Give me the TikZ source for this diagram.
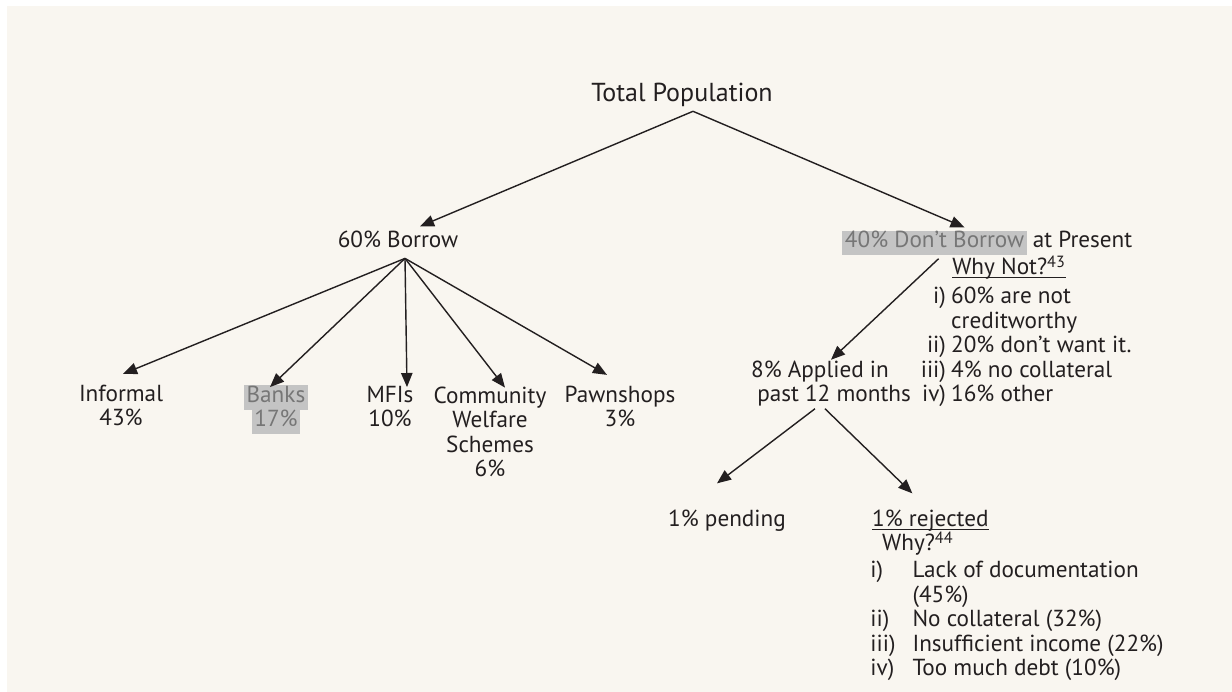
\documentclass[tikz,border=0pt]{standalone}
\usepackage{fontspec}
\setmainfont{PT Sans}
\usetikzlibrary{arrows.meta,calc,positioning}

\definecolor{bgcream}{RGB}{249,246,240}
\definecolor{hlgray}{RGB}{196,196,196}
\definecolor{hltext}{RGB}{118,118,118}
\definecolor{inkcol}{RGB}{35,31,32}

% grey marker behind a word
\newcommand{\hlbox}[1]{{\setlength{\fboxsep}{0pt}\colorbox{hlgray}{\strut\hspace{1.5pt}\textcolor{hltext}{#1}\hspace{1.5pt}}}}
% underline close to the baseline
\newcommand{\ulbox}[1]{\underline{\raisebox{0pt}[\height][0pt]{#1}}}
% list labels
\newcommand{\rlbl}[1]{\makebox[14pt][r]{#1}\hspace{3pt}}
\newcommand{\llbl}[1]{\makebox[24pt][l]{#1}}

\begin{document}
\begin{tikzpicture}[
    x=0.02cm, y=-0.02cm,
    txt/.style={
        font=\fontsize{13.2}{14}\selectfont, text=inkcol,
        inner sep=1pt
    },
    branch/.style={txt, align=center, anchor=base},
    arrow/.style={-{Triangle[length=8pt,width=6.5pt]}, line width=0.8pt, draw=inkcol}
]

% Sfondo
\fill[white] (0,0) rectangle (1232,692);
\fill[bgcream] (7,6) rectangle (1232,692);
\useasboundingbox (0,0) rectangle (1232,692);

% Radice
\node[txt, anchor=base, font=\fontsize{14.8}{16}\selectfont] (total) at (682,102) {Total Population};

% Primo livello
\node[txt, anchor=base] (borrow) at (398,248) {60\% Borrow};
\node[txt, anchor=base west, inner sep=0pt] (noborrow) at (842,248) {\hlbox{40\% Don't Borrow}};
\node[txt, anchor=base west, inner xsep=3pt] (present) at (noborrow.base east) {at Present};

\draw[arrow] ($(total.south)+(11,2)$) -- ($(borrow.north)+(22,-3)$);
\draw[arrow] ($(total.south)+(11,2)$) -- ($(noborrow.north)+(30,-3)$);

% Why Not?
\node[txt, anchor=base] (whynot) at (1009,275) {\ulbox{Why Not?\textsuperscript{43}}};
\node[txt, anchor=base west, align=left, inner sep=0pt] (reasons) at (921,402) {
    \rlbl{i)}60\% are not\\
    \rlbl{}creditworthy\\
    \rlbl{ii)}20\% don't want it.\\
    \rlbl{iii)}4\% no collateral\\
    \rlbl{iv)}16\% other
};

% Fonti di prestito
\coordinate (fan) at ($(borrow.south)+(7,8)$);
\node[branch] (informal) at (121,426) {Informal\\43\%};
\node[branch] (banks) at (276,427) {\hlbox{Banks}\\\hlbox{17\%}};
\node[branch] (mfis) at (390,427) {MFIs\\10\%};
\node[branch] (community) at (490,477) {Community\\Welfare\\Schemes\\6\%};
\node[branch] (pawnshops) at (620,427) {Pawnshops\\3\%};

\draw[arrow] (fan) -- ($(informal.north)+(2,-9)$);
\draw[arrow] (fan) -- ($(banks.north)+(-6,4)$);
\draw[arrow] (fan) -- ($(mfis.north)+(17,3)$);
\draw[arrow] (fan) -- ($(community.north)+(15,3)$);
\draw[arrow] (fan) -- ($(pawnshops.north)+(-13,-9)$);

% Richieste di credito
\node[txt, align=left, anchor=base west] (applied) at (749,402) {8\% Applied in\\\hspace*{3.5pt}past 12 months};
\draw[arrow] ($(noborrow.south)+(4,3)$) -- ($(applied.north)+(0,1)$);

\node[txt, anchor=base] (pending) at (727,527) {1\% pending};
\node[txt, anchor=base west] (rejected) at (870,527) {\ulbox{1\% rejected}};
\draw[arrow] ($(applied.south)+(-16,0)$) -- ($(pending.north)+(-10,-25)$);
\draw[arrow] ($(applied.south)+(-6,0)$) -- ($(rejected.north)+(-18,-15)$);

% Why?
\node[txt, anchor=base west] (why) at (880,551) {Why?\textsuperscript{44}};
\node[txt, anchor=base west, align=left, inner sep=0pt] (causes) at (870,676) {
    \llbl{i)}Lack of documentation\\
    \llbl{}(45\%)\\
    \llbl{ii)}No collateral (32\%)\\
    \llbl{iii)}Insufficient income (22\%)\\
    \llbl{iv)}Too much debt (10\%)
};

\end{tikzpicture}
\end{document}
